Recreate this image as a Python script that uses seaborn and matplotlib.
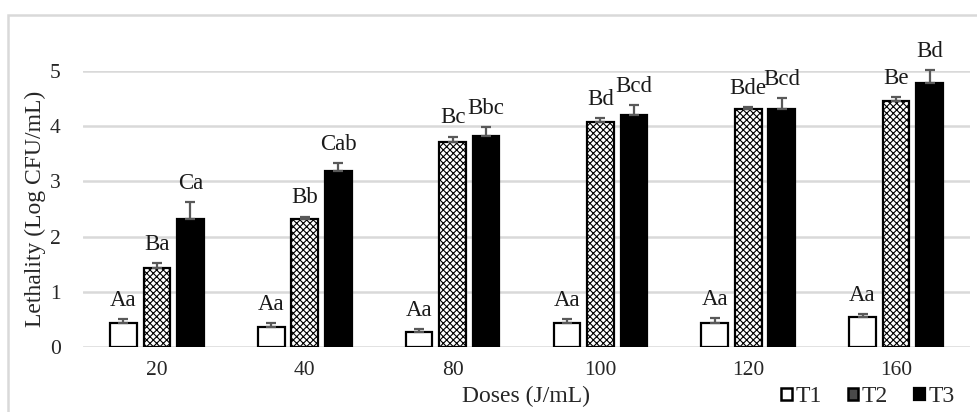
import numpy as np
import pandas as pd
import matplotlib
matplotlib.use("Agg")
import matplotlib.pyplot as plt
import matplotlib.patches as mpatches
import seaborn as sns

doses = ["20", "40", "80", "100", "120", "160"]
treatments = ["T1", "T2", "T3"]
t1_vals = [0.44, 0.37, 0.28, 0.44, 0.44, 0.54]
t2_vals = [1.43, 2.31, 3.71, 4.07, 4.31, 4.46]
t3_vals = [2.32, 3.18, 3.82, 4.21, 4.32, 4.78]
t1_err = [0.06, 0.06, 0.04, 0.06, 0.08, 0.05]
t2_err = [0.09, 0.05, 0.10, 0.07, 0.04, 0.06]
t3_err = [0.31, 0.15, 0.17, 0.17, 0.19, 0.23]
t1_labels = ["Aa", "Aa", "Aa", "Aa", "Aa", "Aa"]
t2_labels = ["Ba", "Bb", "Bc", "Bd", "Bde", "Be"]
t3_labels = ["Ca", "Cab", "Bbc", "Bcd", "Bcd", "Bd"]

vals = [t1_vals, t2_vals, t3_vals]
errs = [t1_err, t2_err, t3_err]
labs = [t1_labels, t2_labels, t3_labels]

rows = []
for t, v in zip(treatments, vals):
    for d, y in zip(doses, v):
        rows.append({"Dose": d, "Treatment": t, "Value": y})
df = pd.DataFrame(rows)

sns.set_style("white")
plt.rcParams["font.family"] = ["Liberation Serif", "DejaVu Serif"]
plt.rcParams["hatch.linewidth"] = 0.8

fig = plt.figure(figsize=(9.77, 4.12), dpi=100)
ax = fig.add_axes([83/977, (412-347)/412, (970-83)/977, (347-71)/412])

sns.barplot(data=df, x="Dose", y="Value", hue="Treatment", order=doses,
            hue_order=treatments, palette=["white", "white", "black"],
            width=0.68, gap=0.2, edgecolor="black", linewidth=1.6,
            errorbar=None, legend=False, ax=ax, zorder=3)

bar_containers = list(ax.containers)
for i, cont in enumerate(bar_containers):
    for bar, e, lab in zip(cont.patches, errs[i], labs[i]):
        if i == 1:
            bar.set_hatch("xxxxx")
        cx = bar.get_x() + bar.get_width() / 2
        h = bar.get_height()
        ax.errorbar(cx, h, yerr=[[0], [e]], fmt="none", ecolor="#595959",
                    elinewidth=1.6, capsize=3.6, capthick=1.6, zorder=4,
                    clip_on=False)
        ax.annotate(lab, (cx, h + e), xytext=(0, 13.5), textcoords="offset points",
                    ha="center", va="center", fontsize=16.5, color="#1a1a1a",
                    annotation_clip=False)

ax.set_xlim(-0.5, len(doses) - 0.5)
ax.set_ylim(0, 5)
ax.set_yticks([0, 1, 2, 3, 4, 5])
ax.yaxis.grid(True, color="#d9d9d9", linewidth=1.8, zorder=0)
ax.set_axisbelow(True)
for s in ax.spines.values():
    s.set_visible(False)
ax.tick_params(axis="both", length=0, labelsize=15.5, colors="#262626")
ax.tick_params(axis="y", pad=16)
ax.tick_params(axis="x", pad=10)
ax.set_xlabel("Doses (J/mL)", fontsize=17, color="#262626", labelpad=4)
ax.set_ylabel("Lethality (Log CFU/mL)", fontsize=17, color="#262626", labelpad=3)

# outer chart border
fig.patches.append(mpatches.Rectangle((8/977, -0.05), 1.0, (412-15)/412 + 0.05,
                                      transform=fig.transFigure, fill=False,
                                      edgecolor="#d9d9d9", linewidth=1.8))

handles = [mpatches.Patch(facecolor="white", edgecolor="black", linewidth=1.8),
           mpatches.Patch(facecolor="#4a4a4a", edgecolor="black", linewidth=1.8),
           mpatches.Patch(facecolor="black", edgecolor="black", linewidth=1.6)]
leg = fig.legend(handles, treatments, loc="center", bbox_to_anchor=(868/977, 1 - 397/412),
                 ncol=3, frameon=False, fontsize=17, handlelength=0.45, handleheight=0.45,
                 handletextpad=0.15, columnspacing=1.1)
for t in leg.get_texts():
    t.set_color("#262626")

fig.savefig("out.png", dpi=100)
